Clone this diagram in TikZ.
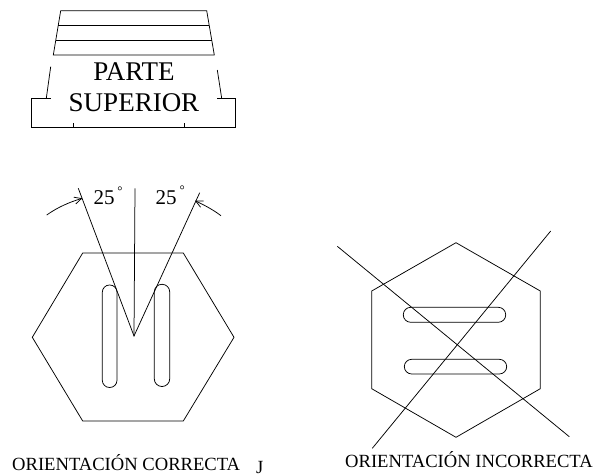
\documentclass[tikz,border=0pt]{standalone}
\usepackage{fontspec}
\setmainfont{Liberation Serif}
\usetikzlibrary{arrows.meta}
\tikzset{
  x=1pt,y=-1pt,
  ln/.style={draw=black,line width=0.75pt,line join=miter},
  big/.style={font=\fontsize{27}{27}\selectfont,anchor=base,inner sep=0pt},
  ang/.style={font=\fontsize{21}{21}\selectfont,anchor=base,inner sep=0pt},
  deg/.style={font=\fontsize{13}{13}\selectfont,anchor=base,inner sep=0pt},
  lbl/.style={font=\fontsize{18.6}{18.6}\selectfont,anchor=base west,inner sep=0pt},
  arw/.style={ln,-{Straight Barb[length=7pt,width=7pt]}},
}
\begin{document}
\begin{tikzpicture}
\useasboundingbox (0,0) rectangle (605,476);
% top piece
\draw[ln] (53.3,55) -- (60.7,10.7) -- (206.7,10.7) -- (214.3,55) -- cycle;
\draw[ln] (58.3,25.3) -- (209,25.3);
\draw[ln] (55.8,40) -- (211.7,40);
\draw[ln] (50.7,66.7) -- (46.3,98.3);
\draw[ln] (217.3,70) -- (221.7,98.3);
\draw[ln] (50.7,98.3) -- (31.3,98.3) -- (31.3,127.7) -- (235.7,127.7) -- (235.7,98.3) -- (216.7,98.3);
\draw[ln] (73.7,123.3) -- (73.7,127.7);
\draw[ln] (184,123.3) -- (184,127.7);
\node[big] (parte) at (134,80.7) {PARTE};
\node[big] (sup) at (134,111.7) {SUPERIOR};
% left hexagon
\draw[ln] (82.7,253) -- (183.3,253) -- (234,337.3) -- (183.3,421) -- (82.7,421) -- (32.3,337.3) -- cycle;
\draw[ln,rounded corners=7.2pt] (102.3,387.5) rectangle (117,285);
\draw[ln,rounded corners=7.6pt] (154.3,386.5) rectangle (169.7,284.3);
\draw[ln] (78.3,188.3) -- (134,336) -- (199.7,192.7);
\draw[ln] (135,188.3) -- (134,336);
\draw[arw] (46.7,215) .. controls (58,207) and (70,202) .. (82.3,198.3);
\draw[arw] (221,215.7) .. controls (212,209) and (204,205) .. (195,200.7);
\node[ang] (a1) at (104,204) {25};
\node[ang] (a2) at (166,204) {25};
\node[deg] (d1) at (120,195) {°};
\node[deg] (d2) at (182.3,194) {°};
% right hexagon
\draw[ln] (456,242.7) -- (540.3,291) -- (540.3,388.7) -- (456,437.3) -- (371.7,388.7) -- (371.7,291) -- cycle;
\draw[ln,rounded corners=7.4pt] (403.3,307.3) rectangle (505.7,322.3);
\draw[ln,rounded corners=7.4pt] (404.3,359.3) rectangle (506.7,374);
\draw[ln] (337.3,246.3) -- (569.3,436.7);
\draw[ln] (550.7,231) -- (372.3,448.3);
\node[lbl] (l1) at (12,470.7) {ORIENTACIÓN CORRECTA};
\node[lbl] (l2) at (345,467.7) {ORIENTACIÓN INCORRECTA};
\node[lbl] (j) at (256,473.5) {J};
\end{tikzpicture}
\end{document}
